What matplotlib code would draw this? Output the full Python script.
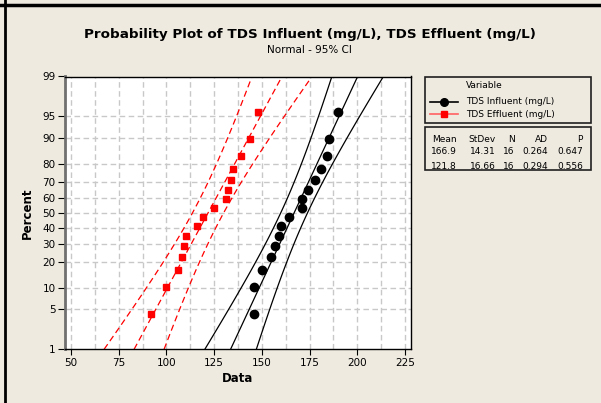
import numpy as np
import matplotlib
matplotlib.use("Agg")
import matplotlib.pyplot as plt
from statistics import NormalDist

influent = [146, 146, 150, 155, 157, 159, 160, 164, 171, 171, 174, 178, 181, 184, 185, 190]
effluent = [92, 100, 106, 108, 109, 110, 116, 119, 125, 131, 132, 134, 135, 139, 144, 148]

series_names = ["TDS Influent (mg/L)", "TDS Effluent (mg/L)"]
means = [166.9, 121.8]
stdevs = [14.31, 16.66]
counts = [16, 16]
ad_values = [0.264, 0.294]
p_values = [0.647, 0.556]

x_ticks = [50, 75, 100, 125, 150, 175, 200, 225]
y_ticks = [1, 5, 10, 20, 30, 40, 50, 60, 70, 80, 90, 95, 99]

nd = NormalDist()
_ppf = np.vectorize(lambda p: nd.inv_cdf(min(max(p / 100.0, 1e-9), 1 - 1e-9)), otypes=[float])
_cdf = np.vectorize(lambda z: nd.cdf(z) * 100.0, otypes=[float])


def fwd(p):
    return _ppf(np.asarray(p, dtype=float))


def inv(z):
    return _cdf(np.asarray(z, dtype=float))


bg = "#EEEAE0"
fig = plt.figure(figsize=(6.01, 4.03), dpi=100, facecolor=bg)
ax = fig.add_axes([65.3 / 601, 1 - 349.3 / 403, (410.7 - 65.3) / 601, (349.3 - 76.5) / 403])
ax.set_facecolor("white")
ax.set_yscale("function", functions=(fwd, inv))
ax.set_ylim(1, 99)
ax.set_xlim(47, 228)

# grid
grid_x = np.arange(50, 226, 12.5)
for gx in grid_x:
    ax.axvline(gx, color="#C8C8C8", lw=1, ls=(0, (4, 2.5)), zorder=0)
for gy in y_ticks[1:-1]:
    ax.axhline(gy, color="#C8C8C8", lw=1, ls=(0, (4, 2.5)), zorder=0)

styles = [
    dict(color="black", marker="o", ms=6, ls="-"),
    dict(color="#FF0000", marker="s", ms=5, ls=(0, (5, 3))),
]

z_grid = np.linspace(nd.inv_cdf(0.01), nd.inv_cdf(0.99), 80)
p_grid = inv(z_grid)
for vals, mu, sd, n, st in zip([influent, effluent], means, stdevs, counts, styles):
    vals = np.sort(vals)
    ranks = np.arange(1, n + 1)
    pct = (ranks - 0.3) / (n + 0.4) * 100
    fit_x = mu + z_grid * sd
    half = 1.96 * sd * np.sqrt(1.0 / n + z_grid ** 2 / (2.0 * n))
    for xx in (fit_x, fit_x - half, fit_x + half):
        ax.plot(xx, p_grid, color=st["color"], lw=0.9, ls=st["ls"])
    ax.plot(vals, pct, ls="none", marker=st["marker"], ms=st["ms"],
            color=st["color"], mec=st["color"], zorder=5, clip_on=False)

ax.set_xticks(x_ticks)
ax.set_yticks(y_ticks)
ax.set_yticklabels([str(t) for t in y_ticks])
ax.minorticks_off()
ax.tick_params(axis="both", direction="out", length=4, width=0.8, colors="black",
               labelsize=7.5, pad=2)
ax.tick_params(axis="y", length=5)

for s in ["top", "right", "bottom"]:
    ax.spines[s].set_color("black")
    ax.spines[s].set_linewidth(1.0)
ax.spines["left"].set_color("#707070")
ax.spines["left"].set_linewidth(2.0)

ax.set_xlabel("Data", fontsize=8.5, fontweight="bold", labelpad=3)
ax.set_ylabel("Percent", fontsize=8.5, fontweight="bold", labelpad=6)

fig.text(310 / 601, 1 - 34.5 / 403, "Probability Plot of TDS Influent (mg/L), TDS Effluent (mg/L)",
         ha="center", va="center", fontsize=9.7, fontweight="bold")
fig.text(309 / 601, 1 - 50 / 403, "Normal - 95% CI", ha="center", va="center", fontsize=7.5)

# figure frame lines
fig.add_artist(plt.Line2D([0, 1], [1 - 4.5 / 403] * 2, color="black", lw=2.5, transform=fig.transFigure))
fig.add_artist(plt.Line2D([5 / 601] * 2, [0, 1], color="black", lw=2, transform=fig.transFigure))

# legend boxes
def px_box(x0, y0, x1, y1):
    r = plt.Rectangle((x0 / 601, 1 - y1 / 403), (x1 - x0) / 601, (y1 - y0) / 403,
                      transform=fig.transFigure, fill=False, ec="#202020", lw=1.2)
    fig.add_artist(r)


px_box(425, 76.5, 591, 122.7)
px_box(425, 127.3, 591, 170)


def ftxt(x, y, s, ha="left", **kw):
    fig.text(x / 601, 1 - y / 403, s, ha=ha, va="center", fontsize=6.5, **kw)


ftxt(466, 86, "Variable")
leg_y = [101.7, 114.3]
leg_line = ["black", "#FF6060"]
for name, st, ly, lc in zip(series_names, styles, leg_y, leg_line):
    yy = 1 - ly / 403
    fig.add_artist(plt.Line2D([430 / 601, 458 / 601], [yy, yy], color=lc, lw=1.2,
                              transform=fig.transFigure))
    fig.add_artist(plt.Line2D([444 / 601], [yy], marker=st["marker"], ms=st["ms"] - 0.5,
                              color=st["color"], ls="none", transform=fig.transFigure))
    ftxt(466, ly, name)

col_x = [457, 496, 514.5, 548, 583]
headers = ["Mean", "StDev", "N", "AD", "P"]
for cx, h in zip(col_x, headers):
    ftxt(cx, 139, h, ha="right")
for row_y, mu, sd, n, ad, pv in zip([152, 166.5], means, stdevs, counts, ad_values, p_values):
    cells = [f"{mu:.1f}", f"{sd:.2f}", str(n), f"{ad:.3f}", f"{pv:.3f}"]
    for cx, c in zip(col_x, cells):
        ftxt(cx, row_y, c, ha="right")

fig.savefig("out.png", dpi=100, facecolor=bg)
